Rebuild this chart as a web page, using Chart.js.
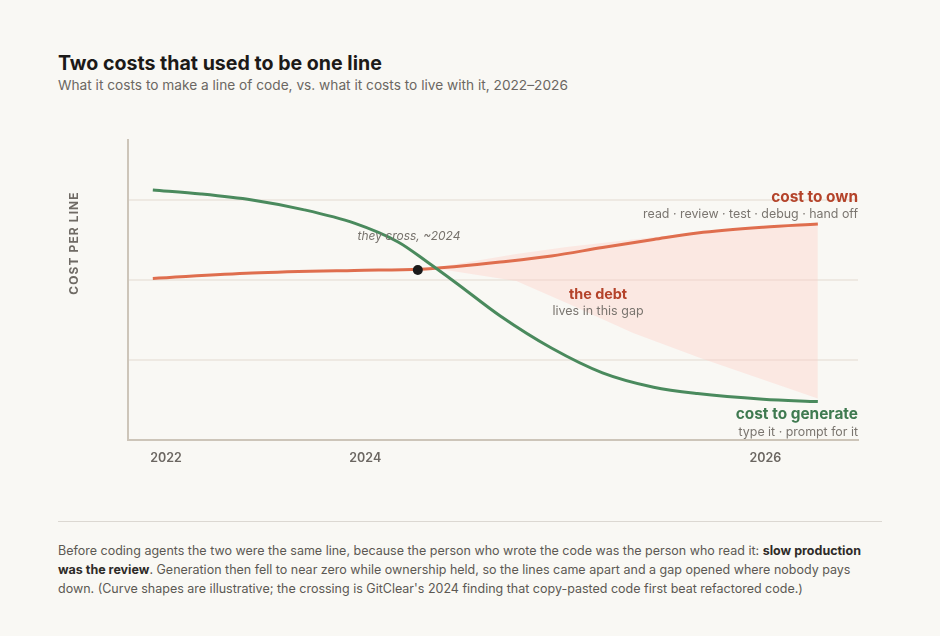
<!DOCTYPE html>
<html lang="en">
  <head>
    <meta charset="UTF-8" />
    <title>Two costs that used to be one line</title>
    <script src="https://cdn.jsdelivr.net/npm/chart.js"></script>
    <style>
      body {
        margin: 0;
        background: #f9f8f4;
        font-family: Inter, "Noto Sans", sans-serif;
        width: 940px;
        height: 636px;
        position: relative;
        overflow: hidden;
      }
      h1 {
        position: absolute;
        left: 58px;
        top: 51px;
        margin: 0;
        font-size: 19.6px;
        font-weight: 700;
        color: #1c1a18;
      }
      .sub {
        position: absolute;
        left: 58px;
        top: 77px;
        margin: 0;
        font-size: 13.7px;
        color: #6b6762;
      }
      .wrap {
        position: absolute;
        left: 0;
        top: 100px;
        width: 940px;
        height: 400px;
      }
      hr {
        position: absolute;
        left: 58px;
        top: 521px;
        width: 824px;
        margin: 0;
        border: none;
        border-top: 1px solid #dcd8d2;
      }
      .note {
        position: absolute;
        left: 58px;
        top: 541px;
        width: 826px;
        margin: 0;
        font-size: 12.5px;
        line-height: 19px;
        color: #5c5853;
      }
      .note strong {
        color: #2e2b28;
      }
    </style>
  </head>
  <body>
    <h1>Two costs that used to be one line</h1>
    <p class="sub">What it costs to make a line of code, vs. what it costs to live with it, 2022–2026</p>
    <div class="wrap"><canvas id="chart"></canvas></div>
    <hr />
    <p class="note">
      Before coding agents the two were the same line, because the person who wrote the code was the person who read it: <strong>slow production was the review</strong>. Generation then fell to near zero while ownership held, so the lines came apart and a gap opened where nobody pays down. (Curve shapes are illustrative; the crossing is GitClear's 2024 finding that copy-pasted code first beat refactored code.)
    </p>

    <script>
      // x runs 0..100 across the plot, y is "cost per line" (arbitrary units)
      const tickAt = [5.2, 32.5, 87.3];
      const tickLabels = ["2022", "2024", "2026"];

      // cost to generate
      const genX = [3.4, 10, 17, 24, 31, 37, 41, 45, 51, 58, 65, 72, 78, 87, 94.5];
      const genY = [3.125, 3.075, 3.0, 2.88, 2.71, 2.475, 2.225, 1.96, 1.55, 1.15, 0.84, 0.66, 0.58, 0.51, 0.48];

      // cost to own
      const ownX = [3.4, 17, 31, 40, 45, 51, 58, 65, 72, 78, 87, 94.5];
      const ownY = [2.02, 2.0875, 2.12, 2.134, 2.17, 2.225, 2.3, 2.406, 2.506, 2.5875, 2.66, 2.7];

      // the debt (shaded gap)
      const gapX = [42.2, 53.2, 60.1, 69.2, 78.4, 94.5];
      const gapTop = [2.156, 2.325, 2.4125, 2.506, 2.6, 2.7];
      const gapBottom = [2.144, 1.9875, 1.7125, 1.3375, 1.025, 0.519];

      // they cross
      const crossX = [39.7];
      const crossY = [2.125];

      const pts = (xs, ys) => xs.map((x, i) => ({ x: x, y: ys[i] }));

      const labelsPlugin = {
        id: "labels",
        afterDatasetsDraw(chart) {
          const ctx = chart.ctx;
          const a = chart.chartArea;
          const font = (w, s, style) => `${style || ""} ${w} ${s}px Inter, "Noto Sans", sans-serif`;
          ctx.save();
          ctx.textBaseline = "middle";

          // line end labels
          ctx.textAlign = "right";
          ctx.fillStyle = "#b4432a";
          ctx.font = font(700, 15.4);
          ctx.fillText("cost to own", a.right, 97);
          ctx.fillStyle = "#7a756f";
          ctx.font = font(400, 12.4);
          ctx.fillText("read · review · test · debug · hand off", a.right, 114);

          ctx.fillStyle = "#3f7a50";
          ctx.font = font(700, 15.4);
          ctx.fillText("cost to generate", a.right, 314);
          ctx.fillStyle = "#7a756f";
          ctx.font = font(400, 12.4);
          ctx.fillText("type it · prompt for it", a.right, 332);

          // gap label
          ctx.textAlign = "center";
          ctx.fillStyle = "#b4432a";
          ctx.font = font(700, 14.4);
          ctx.fillText("the debt", 598, 195);
          ctx.fillStyle = "#7a756f";
          ctx.font = font(400, 12.5);
          ctx.fillText("lives in this gap", 598, 211);

          ctx.font = font(400, 12, "italic");
          ctx.fillStyle = "#77726c";
          ctx.fillText("they cross, ~2024", 409, 136);

          // y axis title
          ctx.translate(74, 143);
          ctx.rotate(-Math.PI / 2);
          ctx.font = font(700, 12);
          ctx.fillStyle = "#6f6a64";
          ctx.letterSpacing = "1.1px";
          ctx.fillText("COST PER LINE", 0, 0);
          ctx.restore();
        },
      };

      new Chart(document.getElementById("chart"), {
        type: "line",
        data: {
          datasets: [
            {
              data: pts(gapX, gapTop),
              borderWidth: 0,
              pointRadius: 0,
              tension: 0,
              fill: false,
              order: 3,
            },
            {
              data: pts(gapX, gapBottom),
              borderWidth: 0,
              pointRadius: 0,
              tension: 0,
              fill: 0,
              backgroundColor: "rgba(255, 205, 198, 0.38)",
              order: 3,
            },
            {
              data: pts(ownX, ownY),
              borderColor: "#df6e4e",
              borderWidth: 3,
              pointRadius: 0,
              cubicInterpolationMode: "monotone",
              order: 2,
            },
            {
              data: pts(genX, genY),
              borderColor: "#4a8a5d",
              borderWidth: 3,
              pointRadius: 0,
              cubicInterpolationMode: "monotone",
              order: 1,
            },
            {
              type: "scatter",
              data: pts(crossX, crossY),
              pointRadius: 5,
              pointBackgroundColor: "#1a1a1a",
              pointBorderWidth: 0,
              order: 0,
            },
          ],
        },
        options: {
          responsive: true,
          maintainAspectRatio: false,
          animation: false,
          events: [],
          layout: { padding: { left: 128, right: 82, top: 40, bottom: 0 } },
          plugins: { legend: { display: false }, tooltip: { enabled: false } },
          scales: {
            x: {
              type: "linear",
              min: 0,
              max: 100,
              afterFit: (s) => { s.height = 60; },
              afterBuildTicks: (s) => { s.ticks = tickAt.map((v) => ({ value: v })); },
              grid: { display: false, drawTicks: false },
              border: { color: "#cdc5b9", width: 2 },
              ticks: {
                padding: 11,
                color: "#6b6661",
                font: { family: "Inter", size: 12.5, weight: 600 },
                callback: (v) => tickLabels[tickAt.indexOf(v)],
              },
            },
            y: {
              min: 0,
              max: 3.75,
              afterFit: (s) => { s.width = 0; },
              afterBuildTicks: (s) => { s.ticks = [1, 2, 3].map((v) => ({ value: v })); },
              grid: { color: "#eee9e2", lineWidth: 2, drawTicks: false },
              border: { color: "#cdc5b9", width: 2 },
              ticks: { display: false },
            },
          },
        },
        plugins: [labelsPlugin],
      });
    </script>
  </body>
</html>
